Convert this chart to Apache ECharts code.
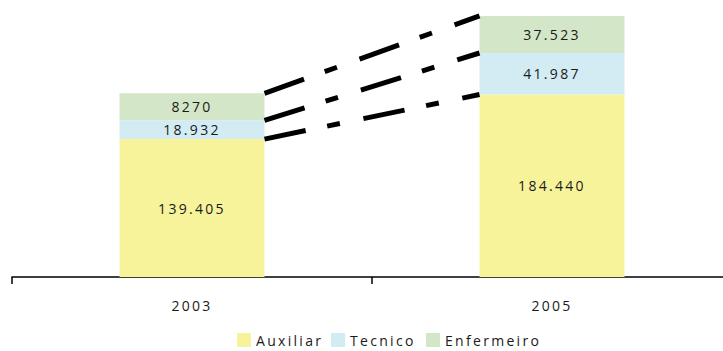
<!DOCTYPE html>
<html>
<head>
<meta charset="utf-8">
<script src="https://cdn.jsdelivr.net/npm/echarts@6/dist/echarts.min.js"></script>
<style>
html,body{margin:0;padding:0;background:#fff;}
#chart{width:723px;height:351px;}
#chart text{letter-spacing:2.3px;}
</style>
</head>
<body>
<div id="chart"></div>
<script>
const categories = ['2003', '2005'];
const seriesNames = ['Auxiliar', 'Tecnico', 'Enfermeiro'];
const auxiliar = [139405, 184440];
const tecnico = [18932, 41987];
const enfermeiro = [27300, 37523];
const auxiliarLabels = ['139.405', '184.440'];
const tecnicoLabels = ['18.932', '41.987'];
const enfermeiroLabels = ['8270', '37.523'];
const colors = ['#F7F39B', '#D3ECF3', '#D3E7C8'];

const BAR_W = 145;
const font = '"Open Sans", "Noto Sans", sans-serif';

const cum1 = auxiliar.map((v, i) => v);
const cum2 = auxiliar.map((v, i) => v + tecnico[i]);
const cum3 = auxiliar.map((v, i) => v + tecnico[i] + enfermeiro[i]);
const connectors = [cum1, cum2, cum3].map(c => [0, c[0], c[1]]);

const chart = echarts.init(document.getElementById('chart'), null, {renderer: 'svg'});

function barSeries(name, data, labels, color) {
  return {
    name: name,
    type: 'bar',
    stack: 'total',
    barWidth: BAR_W,
    data: data,
    itemStyle: {color: color},
    label: {
      show: true,
      position: 'inside',
      color: '#1a1a1a',
      fontSize: 14,
      fontFamily: font,
      formatter: p => labels[p.dataIndex]
    },
    emphasis: {disabled: true}
  };
}

const legendLefts = [237, 331, 426];
function legendFor(i) {
  return {
    left: legendLefts[i],
    top: 333,
    icon: 'rect',
    itemWidth: 14,
    itemHeight: 14,
    padding: 0,
    selectedMode: false,
    textStyle: {fontSize: 14, fontFamily: font, color: '#1a1a1a'},
    data: [seriesNames[i]]
  };
}

chart.setOption({
  animation: false,
  grid: {left: 12, top: 1, width: 720, height: 276, outerBoundsMode: 'none', containLabel: false},
  legend: [legendFor(0), legendFor(1), legendFor(2)],
  xAxis: {
    type: 'category',
    data: categories,
    axisLine: {lineStyle: {color: '#000', width: 1.5}},
    axisTick: {show: true, length: 7, lineStyle: {color: '#000', width: 1.5}},
    axisLabel: {margin: 21, fontSize: 14, fontFamily: font, color: '#1a1a1a'}
  },
  yAxis: {
    type: 'value',
    min: 0,
    max: 279000,
    show: false,
    splitLine: {show: false}
  },
  series: [
    barSeries(seriesNames[0], auxiliar, auxiliarLabels, colors[0]),
    barSeries(seriesNames[1], tecnico, tecnicoLabels, colors[1]),
    barSeries(seriesNames[2], enfermeiro, enfermeiroLabels, colors[2]),
    {
      type: 'custom',
      name: 'connectors',
      data: connectors,
      encode: {x: 0, y: [1, 2]},
      silent: true,
      z: 5,
      renderItem: function (params, api) {
        const p0 = api.coord([0, api.value(1)]);
        const p1 = api.coord([1, api.value(2)]);
        return {
          type: 'line',
          shape: {x1: p0[0] + BAR_W / 2, y1: p0[1], x2: p1[0] - BAR_W / 2, y2: p1[1]},
          style: {stroke: '#000', lineWidth: 5, lineDash: [42, 22, 13, 24], lineCap: 'butt', fill: null}
        };
      }
    }
  ]
});
</script>
</body>
</html>
